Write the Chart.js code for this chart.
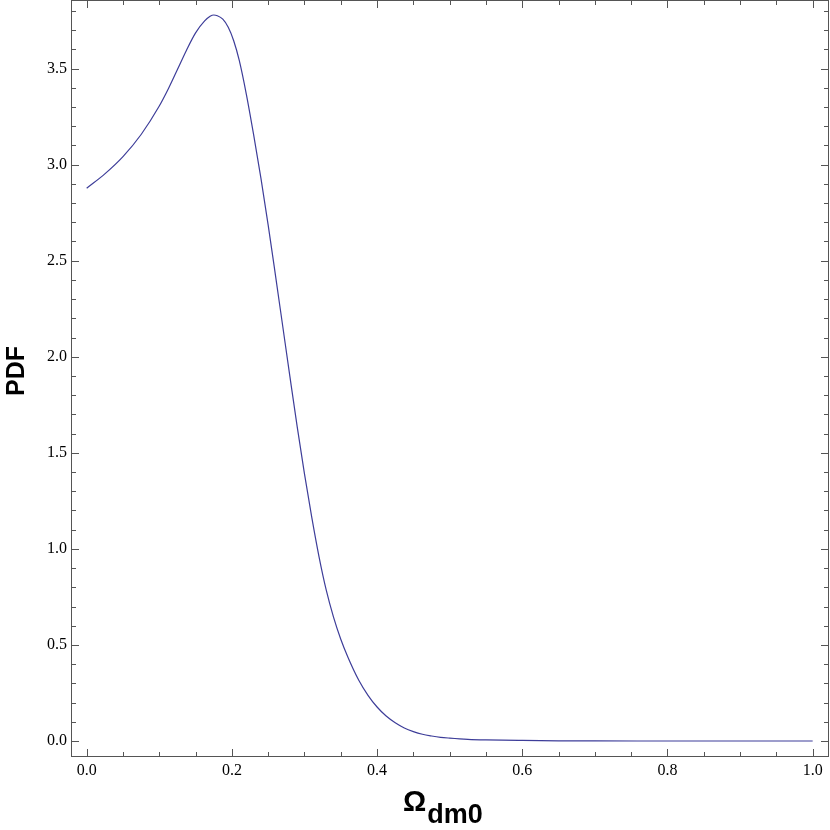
<!DOCTYPE html>
<html>
<head>
<meta charset="utf-8">
<script src="https://cdn.jsdelivr.net/npm/chart.js@4.4.1/dist/chart.umd.min.js"></script>
<style>
html,body{margin:0;padding:0;background:#fff;}
canvas{display:block;}
</style>
</head>
<body>
<canvas id="c" width="830" height="830"></canvas>
<script>
// ---- data ----
const omegaValues = [0.000,0.025,0.050,0.075,0.100,0.1125,0.125,0.1375,0.150,0.1625,0.170,0.175,0.180,0.1875,0.195,0.2025,0.210,0.220,0.230,0.240,0.250,0.260,0.270,0.280,0.290,0.300,0.310,0.320,0.330,0.340,0.350,0.360,0.375,0.3875,0.400,0.4125,0.425,0.4375,0.450,0.4625,0.475,0.4875,0.500,0.525,0.550,0.600,0.650,0.700,0.800,0.900,1.000];
const pdfValues   = [2.877,2.952,3.042,3.157,3.305,3.395,3.495,3.596,3.686,3.748,3.772,3.779,3.775,3.757,3.715,3.645,3.545,3.365,3.155,2.930,2.685,2.425,2.160,1.895,1.635,1.390,1.165,0.960,0.785,0.645,0.530,0.435,0.315,0.238,0.177,0.130,0.095,0.068,0.049,0.035,0.026,0.019,0.015,0.009,0.006,0.003,0.0012,0.0005,0.000,0.000,0.000];
const xTickValues = [0.0,0.2,0.4,0.6,0.8,1.0];
const yTickValues = [0.0,0.5,1.0,1.5,2.0,2.5,3.0,3.5];
const xMinorStep = 0.05;
const yMinorStep = 0.1;
const yTitle = 'PDF';
const xTitleMain = 'Ω';
const xTitleSub = 'dm0';

const points = omegaValues.map((x,i)=>({x:x,y:pdfValues[i]}));

const frameColor = '#555555';

const framePlugin = {
  id:'frameTicks',
  afterDraw(chart){
    const ctx = chart.ctx;
    const a = chart.chartArea;
    const xs = chart.scales.x, ys = chart.scales.y;
    const L = Math.floor(a.left)+0.5, R = Math.floor(a.right)-0.5;
    const T = Math.floor(a.top)+0.5, B = Math.floor(a.bottom)+0.5;
    ctx.save();
    ctx.strokeStyle = frameColor;
    ctx.lineWidth = 1;
    ctx.strokeRect(L, T, R-L, B-T);
    const major = 7.5, minor = 4.5;
    const xStart = Math.ceil(xs.min/xMinorStep - 1e-9);
    const xEnd = Math.floor(xs.max/xMinorStep + 1e-9);
    ctx.beginPath();
    for(let k=xStart;k<=xEnd;k++){
      const v = k*xMinorStep;
      const isMajor = xTickValues.some(t=>Math.abs(t-v)<1e-6);
      const len = isMajor?major:minor;
      const px = Math.round(xs.getPixelForValue(v))+0.5;
      ctx.moveTo(px,B); ctx.lineTo(px,B-len);
      ctx.moveTo(px,T); ctx.lineTo(px,T+len);
    }
    const yStart = Math.ceil(ys.min/yMinorStep - 1e-9);
    const yEnd = Math.floor(ys.max/yMinorStep + 1e-9);
    for(let k=yStart;k<=yEnd;k++){
      const v = k*yMinorStep;
      const isMajor = yTickValues.some(t=>Math.abs(t-v)<1e-6);
      const len = isMajor?major:minor;
      const py = Math.round(ys.getPixelForValue(v))+0.5;
      ctx.moveTo(L,py); ctx.lineTo(L+len,py);
      ctx.moveTo(R,py); ctx.lineTo(R-len,py);
    }
    ctx.stroke();
    // titles
    ctx.fillStyle = '#000';
    ctx.save();
    ctx.translate(17, 371);
    ctx.rotate(-Math.PI/2);
    ctx.font = 'bold 25px "Liberation Sans", Arial, sans-serif';
    ctx.textAlign = 'center';
    ctx.textBaseline = 'middle';
    ctx.fillText(yTitle, 0, 0);
    ctx.restore();
    ctx.textAlign = 'left';
    ctx.textBaseline = 'alphabetic';
    ctx.font = 'bold 29px "Liberation Sans", Arial, sans-serif';
    const wMain = ctx.measureText(xTitleMain).width;
    ctx.fillText(xTitleMain, 403, 811);
    ctx.font = 'bold 27px "Liberation Sans", Arial, sans-serif';
    ctx.fillText(xTitleSub, 403 + wMain + 1, 823);
    ctx.restore();
  }
};

new Chart(document.getElementById('c'), {
  type:'line',
  data:{
    datasets:[{
      data: points,
      borderColor:'#3d3d99',
      borderWidth:1.2,
      pointRadius:0,
      fill:false,
      cubicInterpolationMode:'monotone'
    }]
  },
  options:{
    responsive:false,
    animation:false,
    events:[],
    layout:{padding:{left:0,right:1,top:0,bottom:0}},
    plugins:{legend:{display:false},tooltip:{enabled:false},title:{display:false}},
    scales:{
      x:{
        type:'linear',
        min:-0.0216, max:1.0225,
        afterBuildTicks(scale){ scale.ticks = xTickValues.map(v=>({value:v})); },
        afterFit(scale){ scale.height = 74; scale.paddingLeft = 0; scale.paddingRight = 0; },
        grid:{display:false, drawTicks:false},
        border:{display:false},
        ticks:{
          color:'#000', padding:5, maxRotation:0, autoSkip:false,
          font:{family:'"Liberation Serif", "Times New Roman", serif', size:16},
          callback:(v)=>Number(v).toFixed(1)
        }
      },
      y:{
        type:'linear',
        min:-0.078, max:3.857,
        afterBuildTicks(scale){ scale.ticks = yTickValues.map(v=>({value:v})); },
        afterFit(scale){ scale.width = 71; scale.paddingTop = 0; scale.paddingBottom = 0; },
        grid:{display:false, drawTicks:false},
        border:{display:false},
        ticks:{
          color:'#000', padding:4, autoSkip:false,
          font:{family:'"Liberation Serif", "Times New Roman", serif', size:16},
          callback:(v)=>Number(v).toFixed(1)
        }
      }
    }
  },
  plugins:[framePlugin]
});
</script>
</body>
</html>
